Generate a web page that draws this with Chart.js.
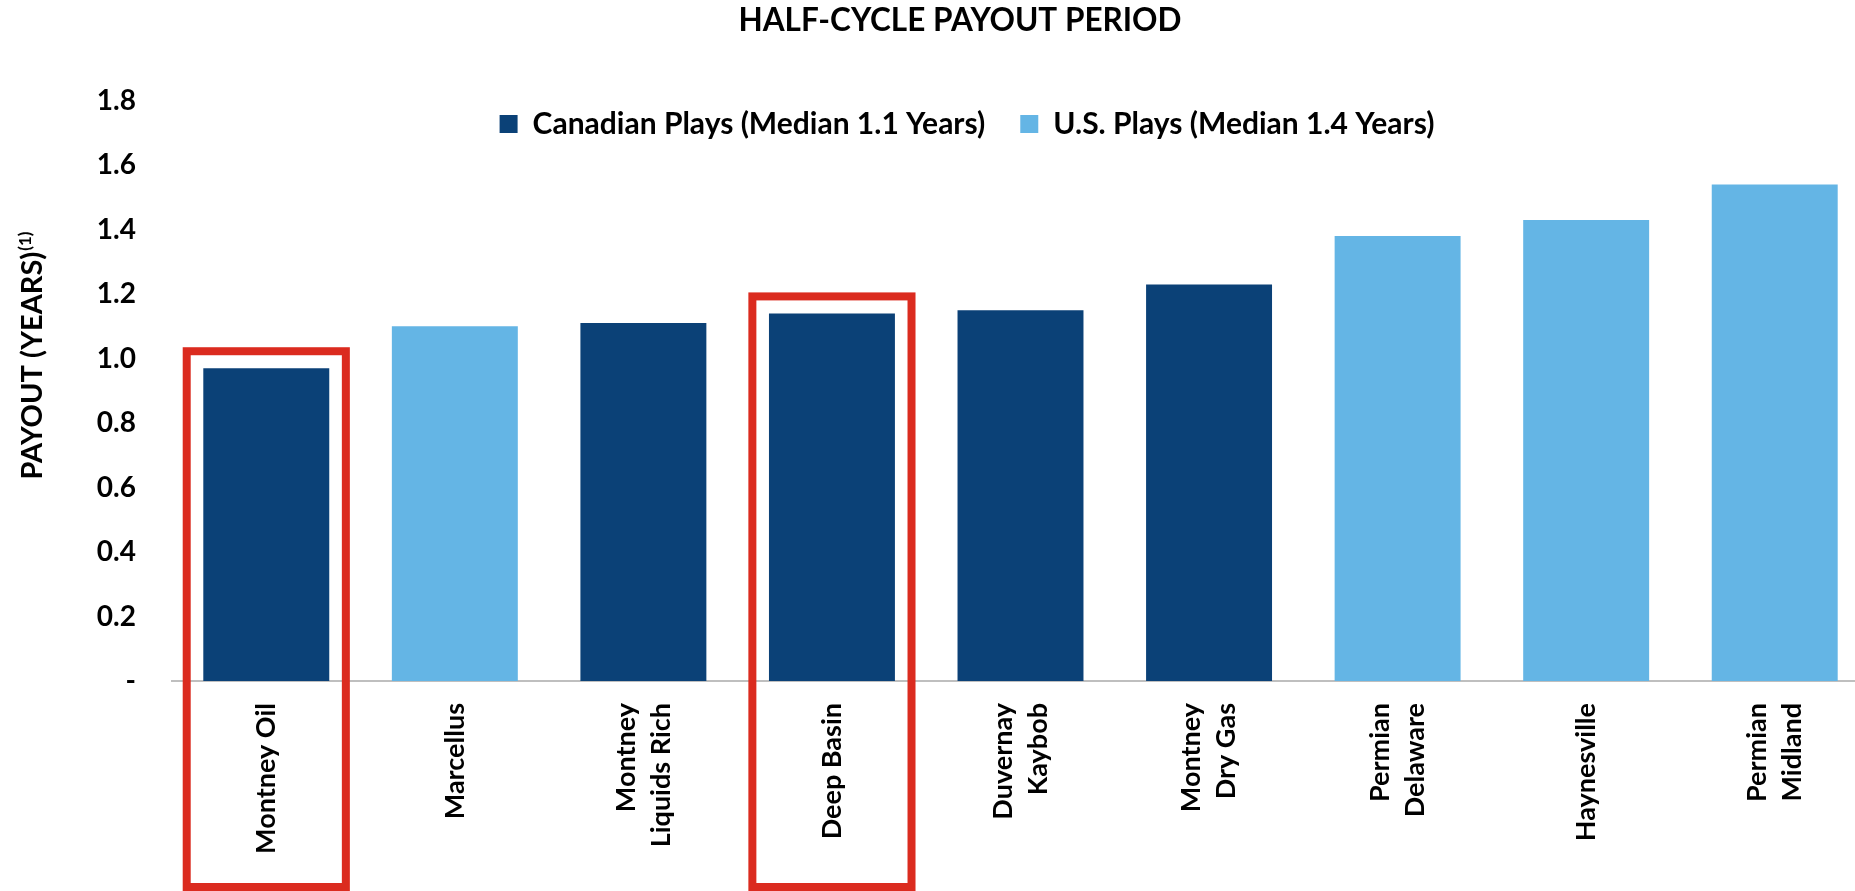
<!DOCTYPE html>
<html>
<head>
<meta charset="utf-8">
<title>Half-Cycle Payout Period</title>
<script src="https://cdn.jsdelivr.net/npm/chart.js@4.4.1/dist/chart.umd.min.js"></script>
<style>
  html, body { margin: 0; padding: 0; background: #fff; overflow: hidden; }
  #wrap { position: relative; width: 1880px; height: 891px; }
</style>
</head>
<body>
<div id="wrap"><canvas id="payoutChart"></canvas></div>
<script>
// Plays, left to right (each entry is the lines of its label)
const plays = [
  ['Montney Oil'],
  ['Marcellus'],
  ['Montney', 'Liquids Rich'],
  ['Deep Basin'],
  ['Duvernay', 'Kaybob'],
  ['Montney', 'Dry Gas'],
  ['Permian', 'Delaware'],
  ['Haynesville'],
  ['Permian', 'Midland'],
];

// Half-cycle payout in years (null = play is in the other group)
const canadianPayout = [0.97, null, 1.11, 1.14, 1.15, 1.23, null, null, null];
const usPayout = [null, 1.10, null, null, null, null, 1.38, 1.43, 1.54];

// Legend labels
const canadianLabel = 'Canadian Plays (Median 1.1 Years)';
const usLabel = 'U.S. Plays (Median 1.4 Years)';

// Plays boxed in red
const highlighted = ['Montney Oil', 'Deep Basin'];

// Y axis range
const yMax = 1.8;
const yStep = 0.2;

const NAVY = '#0b4177';
const SKY = '#64b5e5';
const RED = '#db2b1f';
const FONT = 'Lato, "Open Sans", sans-serif';
const LEGEND_PAD = 35;
const LEGEND_FONT = 30;
const LEGEND_BOX = 18;

// legend overlaps the top of the plot, a bit left of centre
const legendShift = {
  id: 'legendShift',
  afterUpdate(chart) {
    const lg = chart.legend;
    const dx = 967 - (lg.left + lg.right) / 2;
    lg.left += dx;
    lg.right += dx;
    lg.top = 115 - LEGEND_PAD - (LEGEND_FONT - LEGEND_BOX) / 2;
    lg.bottom = lg.top + 2 * LEGEND_PAD + LEGEND_FONT;
  }
};

// vertical category labels, multi-line labels centred on the bar
const playLabels = {
  id: 'playLabels',
  afterDraw(chart) {
    const { ctx } = chart;
    const x = chart.scales.x;
    const lineH = 35;
    ctx.save();
    ctx.font = 'bold 27px ' + FONT;
    ctx.fillStyle = '#000';
    ctx.textAlign = 'right';
    ctx.textBaseline = 'middle';
    plays.forEach((lines, i) => {
      const cx = x.getPixelForValue(i);
      lines.forEach((line, j) => {
        ctx.save();
        ctx.translate(cx + (j - (lines.length - 1) / 2) * lineH, x.top + 22);
        ctx.rotate(-Math.PI / 2);
        ctx.fillText(line, 0, 0);
        ctx.restore();
      });
    });
    ctx.restore();
  }
};

// red outline around highlighted plays
const highlightBoxes = {
  id: 'highlightBoxes',
  afterDraw(chart) {
    const { ctx } = chart;
    const x = chart.scales.x;
    const y = chart.scales.y;
    const half = (x.getPixelForValue(1) - x.getPixelForValue(0)) * 0.422;
    ctx.save();
    ctx.strokeStyle = RED;
    ctx.lineWidth = 8;
    highlighted.forEach(name => {
      const i = plays.findIndex(l => l.join(' ') === name);
      const v = canadianPayout[i] ?? usPayout[i];
      const cx = x.getPixelForValue(i);
      const top = y.getPixelForValue(v) - 17;
      ctx.strokeRect(cx - half, top, half * 2, chart.height - 4 - top);
    });
    ctx.restore();
  }
};

// y axis title with superscript footnote marker
const yTitle = {
  id: 'yTitle',
  afterDraw(chart) {
    const { ctx } = chart;
    const main = 'PAYOUT (YEARS)';
    const sup = '(1)';
    ctx.save();
    ctx.fillStyle = '#000';
    ctx.textBaseline = 'alphabetic';
    ctx.font = 'bold 29px ' + FONT;
    const mw = ctx.measureText(main).width;
    ctx.font = 'bold 17px ' + FONT;
    const sw = ctx.measureText(sup).width;
    ctx.translate(42, 356);
    ctx.rotate(-Math.PI / 2);
    const start = -(mw + sw) / 2;
    ctx.font = 'bold 29px ' + FONT;
    ctx.fillText(main, start, 0);
    ctx.font = 'bold 17px ' + FONT;
    ctx.fillText(sup, start + mw + 1, -11);
    ctx.restore();
  }
};

new Chart(document.getElementById('payoutChart'), {
  type: 'bar',
  data: {
    labels: plays,
    datasets: [
      { label: canadianLabel, data: canadianPayout, backgroundColor: NAVY },
      { label: usLabel, data: usPayout, backgroundColor: SKY },
    ],
  },
  options: {
    responsive: true,
    maintainAspectRatio: false,
    animation: false,
    grouped: false,
    categoryPercentage: 1,
    barPercentage: 0.668,
    layout: { padding: { left: 51, right: 11, top: 0, bottom: 0 } },
    plugins: {
      title: {
        display: true,
        text: 'HALF-CYCLE PAYOUT PERIOD',
        color: '#000',
        font: { family: FONT, size: 31.5, weight: 'bold', lineHeight: 1.2 },
        padding: { top: 2.1, bottom: 0 },
      },
      legend: {
        position: 'top',
        align: 'center',
        maxHeight: 60.7,
        labels: {
          color: '#000',
          font: { family: FONT, size: LEGEND_FONT, weight: 'bold' },
          boxWidth: LEGEND_BOX,
          boxHeight: LEGEND_BOX,
          padding: LEGEND_PAD,
        },
      },
      tooltip: { enabled: false },
    },
    scales: {
      x: {
        grid: { display: false, drawTicks: false },
        border: { display: true, color: '#bfbfbf', width: 2 },
        ticks: { display: false },
        afterFit: (scale) => { scale.height = 210; },
      },
      y: {
        min: 0,
        max: yMax,
        grid: { display: false, drawTicks: false },
        border: { display: false },
        ticks: {
          stepSize: yStep,
          padding: 36,
          color: '#000',
          font: { family: FONT, size: 28, weight: 'bold' },
          callback: (v) => (v === 0 ? '-' : v.toFixed(1)),
        },
        afterFit: (scale) => { scale.width = 121; },
      },
    },
  },
  plugins: [legendShift, playLabels, highlightBoxes, yTitle],
});
</script>
</body>
</html>
